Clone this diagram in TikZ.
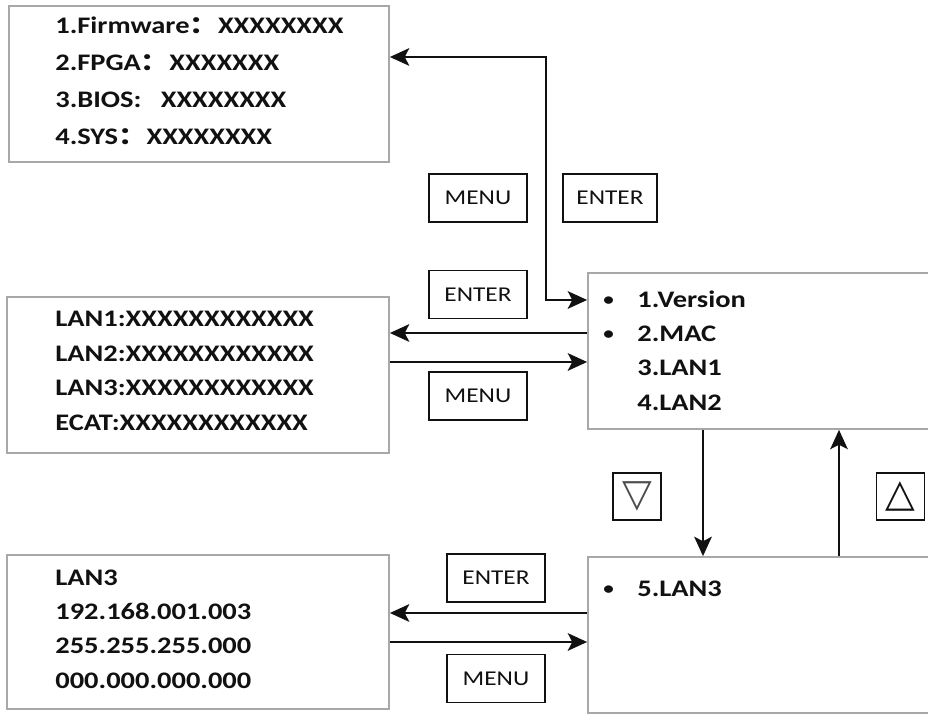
\documentclass[tikz,border=0pt]{standalone}
\usepackage{fontspec}
\setmainfont[FakeStretch=1.2]{Carlito}
\newfontfamily\cjkfont[FakeStretch=1.2]{Noto Sans CJK SC}
\newfontfamily\symfont{DejaVu Sans}
\usetikzlibrary{positioning, arrows.meta, calc}
\definecolor{PanelGray}{HTML}{A8A8A8}
\definecolor{Ink}{HTML}{111111}
\newcommand{\fwc}{{\cjkfont ：}}
\newcommand{\dotmark}{\makebox[0.68cm][l]{\fontsize{10}{10}\selectfont\raisebox{1pt}{•}}}

\begin{document}
\begin{tikzpicture}[
    >={Stealth[length=11pt, width=10pt, inset=2.5pt]},
    panel/.style={draw=PanelGray, line width=1pt, minimum width=7.64cm, minimum height=3.12cm, inner sep=0pt},
    rows/.style={align=left, anchor=west, inner sep=0pt, text=Ink, font=\bfseries\fontsize{13.5}{19.6}\selectfont},
    key/.style={draw=Ink, line width=1.1pt, minimum width=1.96cm, minimum height=0.96cm, inner sep=0pt, text=Ink, font=\fontsize{12}{14}\selectfont},
    arrow/.style={key, minimum width=0.96cm, minimum height=0.94cm, text=black!70, font=\symfont\fontsize{22}{22}\selectfont},
    arr/.style={->, line width=1.1pt, color=Ink}
]
\useasboundingbox (0,0) rectangle (18.56,14.3);
\clip (0,0) rectangle (18.56,14.3);

% detail screens
\node[panel, minimum width=7.6cm] (ver) at (3.98,12.62) {};
\node[panel] (lan) at (3.96,6.80) {};
\node[panel, minimum height=3.08cm] (ip) at (3.96,1.66) {};

% menu screens, running off the right edge
\node[panel, minimum width=7.6cm] (menu) at (15.56,7.28) {};
\node[panel, minimum width=7.6cm] (lan3) at (15.56,1.60) {};

\node[rows, font=\bfseries\fontsize{13.5}{21}\selectfont] (vertxt) at (1.1,12.68)
    {1.Firmware\fwc XXXXXXXX\\2.FPGA\fwc XXXXXXX\\3.BIOS:\ \ \ XXXXXXXX\\4.SYS\fwc XXXXXXXX};
\node[rows] (lantxt) at (1.1,6.88)
    {LAN1:XXXXXXXXXXXX\\LAN2:XXXXXXXXXXXX\\LAN3:XXXXXXXXXXXX\\ECAT:XXXXXXXXXXXX};
\node[rows] (iptxt) at (1.1,1.72)
    {LAN3\\192.168.001.003\\255.255.255.000\\000.000.000.000};
\node[rows] (menutxt) at (12.06,7.29)
    {\dotmark 1.Version\\\dotmark 2.MAC\\\makebox[0.68cm]{}3.LAN1\\\makebox[0.68cm]{}4.LAN2};
\node[rows] (lan3txt) at (12.06,2.52) {\dotmark 5.LAN3};

% keys
\node[key] (menuA) at (9.56,10.34) {MENU};
\node[key, minimum width=1.88cm] (enterA) at (12.20,10.34) {ENTER};
\node[key] (enterB) at (9.56,8.41) {ENTER};
\node[key] (menuB) at (9.56,6.38) {MENU};
\node[key] (enterC) at (9.92,2.74) {ENTER};
\node[key] (menuC) at (9.92,0.73) {MENU};
\node[arrow] (down) at (12.74,4.37) {▽};
\node[arrow, text=Ink] (up) at (18.01,4.37) {△};

% connectors
\coordinate (v1) at ([yshift=0.54cm]ver.east);
\coordinate (m1) at ([yshift=1.02cm]menu.west);
\coordinate (m2) at ([yshift=0.36cm]menu.west);
\coordinate (m3) at ([yshift=-0.22cm]menu.west);
\coordinate (l1) at ([yshift=0.44cm]lan3.west);
\coordinate (l2) at ([yshift=-0.14cm]lan3.west);
\coordinate (dn) at (14.06,0);
\coordinate (upx) at (16.78,0);

\draw[arr, <->] (v1) -- ++(3.12,0) |- (m1);
\draw[arr] (m2) -- (m2 -| lan.east);
\draw[arr] (m3 -| lan.east) -- (m3);
\draw[arr] (dn |- menu.south) -- (dn |- lan3.north);
\draw[arr] (upx |- lan3.north) -- (upx |- menu.south);
\draw[arr] (l1) -- (l1 -| ip.east);
\draw[arr] (l2 -| ip.east) -- (l2);

\end{tikzpicture}
\end{document}
